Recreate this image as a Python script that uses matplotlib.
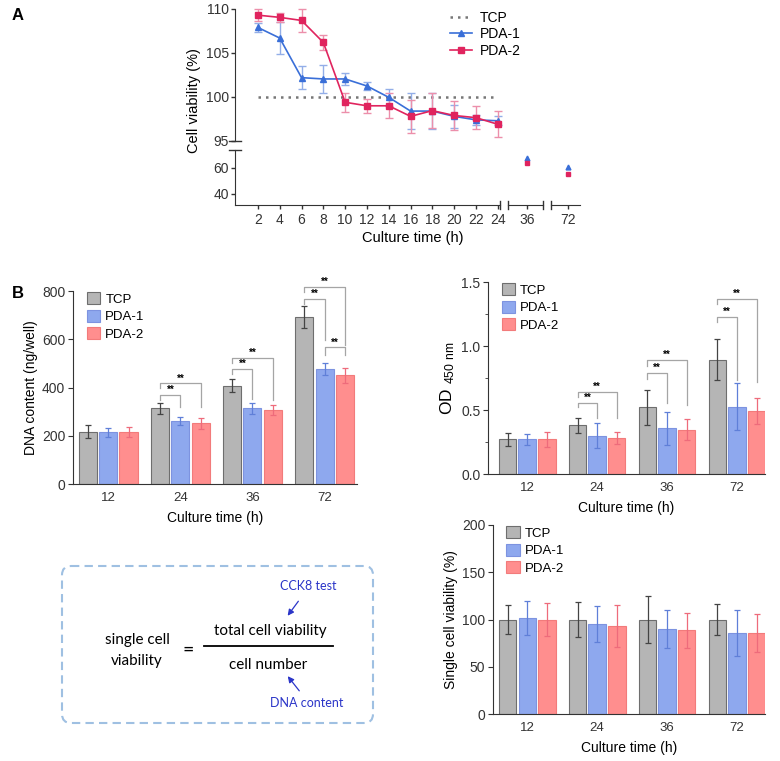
import numpy as np
import matplotlib
matplotlib.use("Agg")
import matplotlib.pyplot as plt
from matplotlib.lines import Line2D
from matplotlib.patches import FancyBboxPatch

plt.rcParams['font.family'] = ['Liberation Sans', 'DejaVu Sans']
plt.rcParams['mathtext.default'] = 'regular'
plt.rcParams['axes.edgecolor'] = '#333333'
plt.rcParams['xtick.color'] = '#333333'
plt.rcParams['ytick.color'] = '#333333'

# ---- panel A: cell viability over time ----
hours = [2, 4, 6, 8, 10, 12, 14, 16, 18, 20, 22, 24]
pda1_via = [107.9, 106.7, 102.2, 102.05, 102.05, 101.25, 99.96, 98.4, 98.4, 97.8, 97.4, 97.3]
pda1_err = [0.5, 1.8, 1.3, 1.6, 0.7, 0.5, 1.0, 2.0, 2.0, 1.3, 0.6, 0.5]
pda2_via = [109.3, 109.05, 108.7, 106.2, 99.4, 99.0, 99.0, 97.8, 98.45, 97.9, 97.65, 96.9]
pda2_err = [0.65, 0.5, 1.3, 0.9, 1.1, 0.8, 1.4, 1.9, 2.0, 1.6, 1.3, 1.5]
tcp_level = 100
late_hours = [36, 72]
pda1_late = [67.3, 60.3]
pda2_late = [63.3, 55.0]

# ---- panel B: bar charts ----
groups = ['12', '24', '36', '72']
series = ['TCP', 'PDA-1', 'PDA-2']

dna_tcp = [216, 313, 407, 692]
dna_pda1 = [214, 261, 313, 477]
dna_pda2 = [216, 252, 308, 451]
dna_tcp_err = [27, 22, 27, 44]
dna_pda1_err = [20, 18, 22, 26]
dna_pda2_err = [20, 23, 21, 31]
# (group, bar_a, bar_b, height, left leg end, right leg end)
dna_sig = [(1, 0, 1, 368, 348, 320), (1, 0, 2, 417, 396, 320),
           (2, 0, 1, 476, 458, 354), (2, 0, 2, 524, 503, 348),
           (3, 0, 1, 768, 748, 596), (3, 0, 2, 817, 796, 575),
           (3, 1, 2, 566, 534, 534)]

od_tcp = [0.27, 0.38, 0.52, 0.894]
od_pda1 = [0.27, 0.30, 0.356, 0.525]
od_pda2 = [0.27, 0.283, 0.346, 0.494]
od_tcp_err = [0.05, 0.06, 0.14, 0.157]
od_pda1_err = [0.04, 0.10, 0.13, 0.185]
od_pda2_err = [0.06, 0.045, 0.08, 0.10]
od_sig = [(1, 0, 1, 0.556, 0.525, 0.434), (1, 0, 2, 0.642, 0.603, 0.434),
          (2, 0, 1, 0.79, 0.746, 0.551), (2, 0, 2, 0.889, 0.842, 0.538),
          (3, 0, 1, 1.227, 1.188, 0.733), (3, 0, 2, 1.367, 1.33, 0.72)]

sc_tcp = [100, 100, 100, 100]
sc_pda1 = [101.4, 95, 89.8, 85.6]
sc_pda2 = [100, 93.3, 88.4, 85.6]
sc_tcp_err = [15, 19, 25, 16]
sc_pda1_err = [18, 19, 20, 24]
sc_pda2_err = [17.8, 22.4, 19, 20]

W, H = 780, 761


def rect(x0, y0, x1, y1):
    # pixel box -> figure fraction
    return [x0 / W, 1 - y1 / H, (x1 - x0) / W, (y1 - y0) / H]


fig = plt.figure(figsize=(W / 100, H / 100), dpi=100)

blue = '#3a6fd8'
blue_l = '#93aee8'
red = '#e0245e'
red_l = '#ec8fab'
tcp_gray = '#777777'

# upper part of A
ax_up = fig.add_axes(rect(235, 9, 500, 141))
for s in ['top', 'right', 'bottom']:
    ax_up.spines[s].set_visible(False)
ax_up.set_xlim(-0.1, 24.2)
ax_up.set_ylim(95, 110)
ax_up.set_yticks([95, 100, 105, 110])
ax_up.set_xticks([])
ax_up.tick_params(axis='y', labelsize=10, length=3, width=1, pad=1.5)
ax_up.plot([hours[0], hours[-1]], [tcp_level, tcp_level], color=tcp_gray,
           lw=1.8, linestyle=(0, (1, 2)))
ax_up.errorbar(hours, pda1_via, yerr=pda1_err, color=blue, marker='^', ms=5,
               lw=1.2, ecolor=blue_l, elinewidth=1, capsize=3, capthick=1, clip_on=False)
ax_up.errorbar(hours, pda2_via, yerr=pda2_err, color=red, marker='s', ms=4.5,
               lw=1.2, ecolor=red_l, elinewidth=1, capsize=3, capthick=1, clip_on=False)

# lower part of A, three x segments
lo_specs = [((235, 150, 500, 205), (-0.1, 24.2)),
            ((508, 150, 543, 205), (34.26, 37.47)),
            ((551, 150, 580, 205), (70.44, 73.1))]
lo_axes = []
for box, xl in lo_specs:
    a = fig.add_axes(rect(*box))
    a.set_xlim(*xl)
    a.set_ylim(31.5, 73.5)
    a.spines['top'].set_visible(False)
    a.spines['right'].set_visible(False)
    a.patch.set_alpha(0)
    a.tick_params(labelsize=10, length=3, width=1)
    a.tick_params(axis='y', pad=1.5)
    a.tick_params(axis='x', pad=3)
    lo_axes.append(a)
lo_axes[0].set_yticks([40, 60])
lo_axes[0].set_xticks(hours)
for a in lo_axes[1:]:
    a.spines['left'].set_visible(False)
    a.set_yticks([])
lo_axes[1].set_xticks([36])
lo_axes[2].set_xticks([72])
for a, h in zip(lo_axes[1:], late_hours):
    i = late_hours.index(h)
    a.plot(h, pda1_late[i], '^', color=blue, ms=3.5, clip_on=False)
    a.plot(h, pda2_late[i], 's', color=red, ms=3.5, clip_on=False)

# break marks
bk = dict(color='#333333', lw=1, clip_on=False)
ax_up.plot([-0.022, 0.022], [0, 0], transform=ax_up.transAxes, **bk)
lo_axes[0].plot([-0.022, 0.022], [1, 1], transform=lo_axes[0].transAxes, **bk)
lo_axes[0].plot([1, 1], [-0.07, 0.07], transform=lo_axes[0].transAxes, **bk)
lo_axes[1].plot([0, 0], [-0.07, 0.07], transform=lo_axes[1].transAxes, **bk)
lo_axes[1].plot([1, 1], [-0.07, 0.07], transform=lo_axes[1].transAxes, **bk)
lo_axes[2].plot([0, 0], [-0.07, 0.07], transform=lo_axes[2].transAxes, **bk)

fig.text(194 / W, 1 - 101 / H, 'Cell viability (%)', rotation=90, ha='center',
         va='center', fontsize=10.5)
fig.text(413 / W, 1 - 238 / H, 'Culture time (h)', ha='center', va='center', fontsize=10.5)

handles = [Line2D([], [], color=tcp_gray, lw=1.8, linestyle=(0, (1, 2))),
           Line2D([], [], color=blue, marker='^', ms=5, lw=1.2),
           Line2D([], [], color=red, marker='s', ms=4.5, lw=1.2)]
fig.legend(handles, series, loc='upper left', bbox_to_anchor=(444 / W, 1 - 5 / H),
           frameon=False, fontsize=10, handlelength=1.6, labelspacing=0.2,
           handletextpad=0.6, borderaxespad=0)

fig.text(12 / W, 1 - 15 / H, 'A', fontsize=12, fontweight='bold', va='center')
fig.text(12 / W, 1 - 293 / H, 'B', fontsize=12, fontweight='bold', va='center')

# ---- bar panels ----
fills = ['#b5b5b5', '#8ea8ee', '#ff8e8e']
edges = ['#6e6e6e', '#7d93e0', '#f27b7b']
ecols = ['#444444', '#5f7fd8', '#ee6b7b']
offsets = [-0.28, 0.0, 0.28]


def bar_panel(ax, vals, errs, ylim, yticks, ylabel, sig=None, minor=None):
    x = np.arange(len(groups))
    for k in range(3):
        ax.bar(x + offsets[k], vals[k], width=0.25, color=fills[k], edgecolor=edges[k],
               linewidth=0.8, label=series[k], zorder=2)
        ax.errorbar(x + offsets[k], vals[k], yerr=errs[k], fmt='none', ecolor=ecols[k],
                    elinewidth=0.9, capsize=2.5, capthick=0.9, zorder=3)
    ax.set_xlim(-0.49, 3.45)
    ax.set_ylim(*ylim)
    ax.set_yticks(yticks)
    if minor is not None:
        ax.set_yticks(minor, minor=True)
    ax.set_xticks(x)
    ax.set_xticklabels(groups)
    ax.spines['top'].set_visible(False)
    ax.spines['right'].set_visible(False)
    ax.tick_params(axis='x', length=0, labelsize=9.5, pad=6)
    ax.tick_params(axis='y', labelsize=10, length=3.5, pad=2)
    ax.tick_params(axis='y', which='minor', length=2)
    ax.set_xlabel('Culture time (h)', fontsize=10, labelpad=5)
    ax.set_ylabel(ylabel, fontsize=10, labelpad=3)
    if sig:
        for g, a, b, h, yl, yr in sig:
            xa, xb = g + offsets[a], g + offsets[b]
            ax.plot([xa, xa, xb, xb], [yl, h, h, yr], color='#a5a5a5', lw=0.9,
                    clip_on=False, zorder=1)
            ax.text((xa + xb) / 2, h, '**', ha='center', va='bottom', fontsize=7,
                    fontweight='bold', clip_on=False)
    ax.legend(loc='upper left', bbox_to_anchor=(0.03, 1.02), frameon=False, fontsize=9.5,
              handlelength=1.0, handleheight=1.0, labelspacing=0.3, handletextpad=0.4,
              borderaxespad=0)


ax_dna = fig.add_axes(rect(73, 291, 357, 484))
bar_panel(ax_dna, [dna_tcp, dna_pda1, dna_pda2], [dna_tcp_err, dna_pda1_err, dna_pda2_err],
          (0, 800), [0, 200, 400, 600, 800], 'DNA content (ng/well)', dna_sig)

ax_od = fig.add_axes(rect(488, 282, 765, 474))
bar_panel(ax_od, [od_tcp, od_pda1, od_pda2], [od_tcp_err, od_pda1_err, od_pda2_err],
          (0, 1.5), [0, 0.5, 1.0, 1.5], r'OD $_{\mathregular{450\ nm}}$', od_sig,
          minor=[0.25, 0.75, 1.25])
ax_od.set_xlim(-0.56, 3.4)
ax_od.yaxis.label.set_size(12.5)

ax_sc = fig.add_axes(rect(493, 525, 765, 714))
bar_panel(ax_sc, [sc_tcp, sc_pda1, sc_pda2], [sc_tcp_err, sc_pda1_err, sc_pda2_err],
          (0, 200), [0, 50, 100, 150, 200], 'Single cell viability (%)')
ax_sc.set_xlim(-0.49, 3.4)

# ---- formula box ----
ov = fig.add_axes([0, 0, 1, 1])
ov.set_xlim(0, W)
ov.set_ylim(H, 0)
ov.axis('off')
ov.patch.set_alpha(0)
ov.add_patch(FancyBboxPatch((62, 566), 311, 157, boxstyle='round,pad=0,rounding_size=9',
                            fill=False, edgecolor='#9fc0e2', lw=1.5, linestyle=(0, (4, 2.5))))
ff = ['Lato', 'DejaVu Sans']
ov.text(137, 640, 'single cell', ha='center', va='center', fontsize=11, family=ff)
ov.text(137, 661, 'viability', ha='center', va='center', fontsize=11, family=ff)
ov.text(188, 650, '=', ha='center', va='center', fontsize=14, family=ff)
ov.plot([204, 333], [646, 646], color='black', lw=1.3)
ov.text(270, 631, 'total cell viability', ha='center', va='center', fontsize=11, family=ff)
ov.text(268, 665, 'cell number', ha='center', va='center', fontsize=11, family=ff)
dark_blue = '#2b35c8'
ov.text(308, 586, 'CCK8 test', ha='center', va='center', fontsize=9, color=dark_blue, family=ff)
ov.text(307, 703, 'DNA content', ha='center', va='center', fontsize=9, color=dark_blue, family=ff)
ov.annotate('', xy=(286, 618), xytext=(300, 599),
            arrowprops=dict(arrowstyle='-|>', color=dark_blue, lw=0.9, mutation_scale=9))
ov.annotate('', xy=(286, 674), xytext=(301, 693),
            arrowprops=dict(arrowstyle='-|>', color=dark_blue, lw=0.9, mutation_scale=9))

fig.savefig('out.png', dpi=100)
